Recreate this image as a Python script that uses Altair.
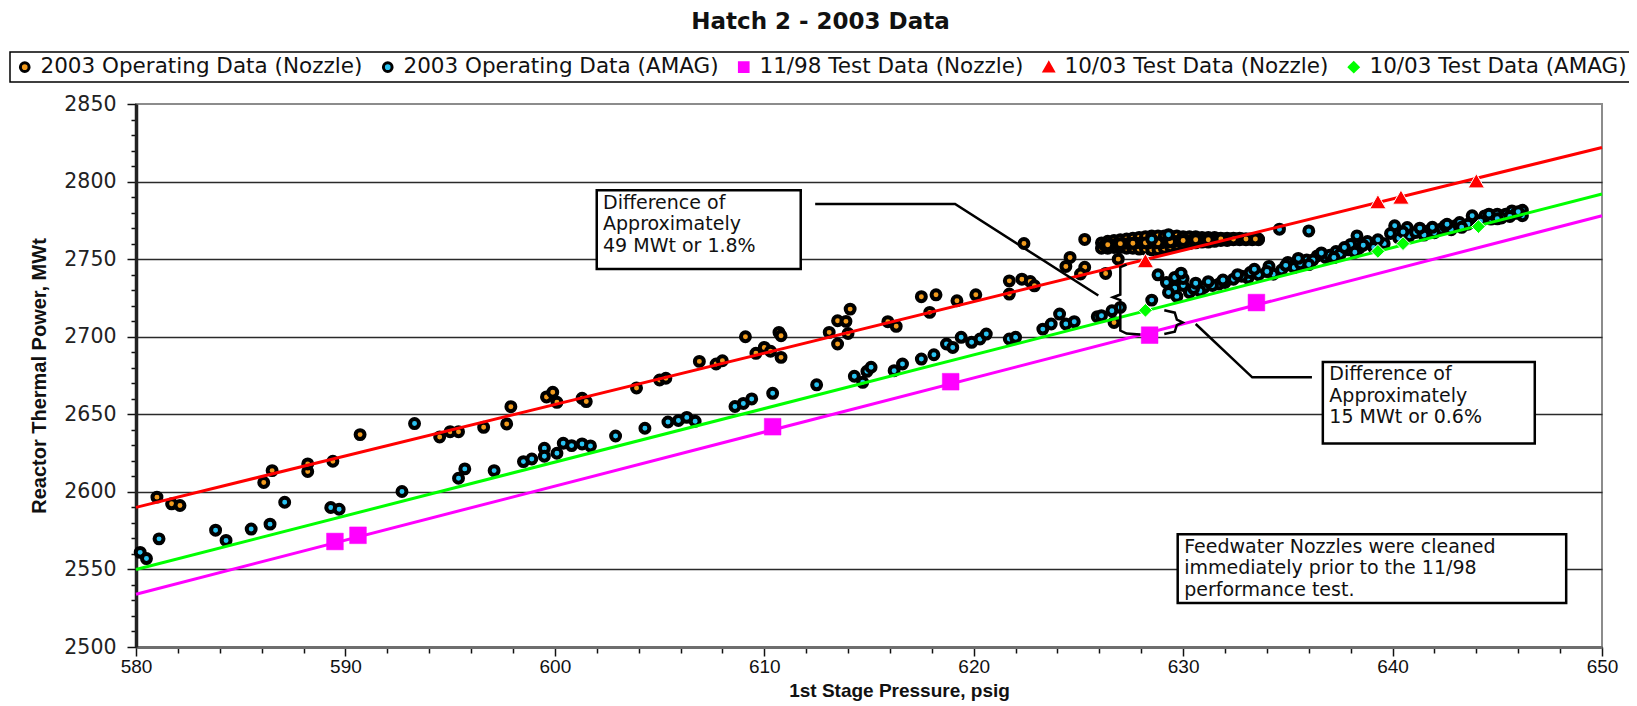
import altair as alt
import pandas as pd

# ---------------- legend / series ----------------
SERIES = ["2003 Operating Data (Nozzle)", "2003 Operating Data (AMAG)",
          "11/98 Test Data (Nozzle)", "10/03 Test Data (Nozzle)", "10/03 Test Data (AMAG)"]
FILLS = ["#F29B1D", "#29C3F2", "#FF00FF", "#FF0000", "#00FF00"]
SHAPES = ["circle", "circle", "square", "triangle-up", "diamond"]
STROKES = ["#000000", "#000000", "#FF00FF", "#FF0000", "#00FF00"]

# ---------------- 2003 operating data (nozzle) ----------------
NOZ_X = [581.0, 581.7, 582.1, 586.1, 586.5, 588.2, 588.2, 589.4, 590.7, 594.5, 595.0, 595.4,
         596.6, 597.7, 597.9, 599.6, 599.9, 600.1, 601.3, 601.5,
         603.9, 605.0, 605.3, 606.9, 607.7, 608.0, 609.1, 609.6, 610.0, 610.3, 610.8, 610.7,
         610.8, 613.1, 613.5, 613.9, 613.5, 614.0, 614.1, 615.9, 616.3, 617.5, 618.2, 617.9,
         619.2, 620.1, 621.7, 622.3, 622.7, 621.7, 622.9, 622.4, 624.4, 624.6, 625.3, 625.3,
         625.1, 626.3, 626.9, 626.7,
         # dense cluster, top row
         626.1, 626.4, 626.7, 627.0, 627.3, 627.6, 627.9, 628.2, 628.5, 628.8, 629.1, 629.4, 629.7,
         630.0, 630.3, 630.6, 630.9, 631.2, 631.5, 631.8, 632.1, 632.4, 632.7, 633.0, 633.3, 633.6,
         # dense cluster, bottom row
         626.1, 626.4, 626.7, 627.0, 627.3, 627.6, 627.9, 628.2, 628.5, 628.8, 629.1, 629.4, 629.7,
         630.0, 630.3, 630.6, 630.9, 631.2, 631.5, 631.8, 632.1, 632.4, 632.7, 633.0, 633.3, 633.6,
         # dense cluster, middle row
         626.25, 626.55, 626.85, 627.15, 627.45, 627.75, 628.05, 628.35, 628.65, 628.95, 629.25,
         629.55, 629.85, 630.15, 630.45, 630.75, 631.05, 631.35, 631.65, 631.95, 632.25, 632.55,
         632.85, 633.15, 633.45,
         # dense cluster, last readings
         626.4, 627.0, 627.6, 628.2, 628.8, 629.4, 630.0, 630.6, 631.2, 631.8, 632.4, 633.0]
NOZ_Y = [2596.6, 2592.3, 2591.2, 2606.0, 2613.7, 2613.1, 2618.0, 2619.7, 2636.9, 2635.4, 2638.8, 2638.8,
         2641.6, 2643.8, 2654.9, 2661.2, 2664.2, 2657.7, 2660.3, 2658.2,
         2667.0, 2672.1, 2673.2, 2684.1, 2682.4, 2684.5, 2700.0, 2689.3, 2693.1, 2690.6, 2686.7, 2702.8,
         2700.6, 2702.8, 2710.3, 2709.9, 2695.3, 2702.1, 2717.8, 2709.7, 2706.7, 2725.8, 2727.0, 2715.7,
         2723.2, 2727.0, 2736.0, 2737.1, 2735.6, 2727.5, 2732.8, 2760.1, 2745.3, 2751.1, 2762.7, 2744.8,
         2740.4, 2740.8, 2750.0, 2709.2,
         2760.5, 2761.5, 2762.0, 2762.5, 2763.0, 2763.5, 2764.0, 2764.5, 2765.0, 2765.0, 2765.0, 2765.0, 2765.0,
         2764.5, 2764.5, 2764.5, 2764.0, 2764.0, 2764.0, 2763.5, 2763.5, 2763.5, 2763.5, 2763.0, 2763.0, 2763.0,
         2757.0, 2757.0, 2757.5, 2757.5, 2757.0, 2757.0, 2756.5, 2756.5, 2756.0, 2756.0, 2757.0, 2758.0, 2759.0,
         2759.5, 2760.0, 2760.5, 2761.0, 2761.0, 2761.5, 2762.0, 2762.0, 2762.5, 2762.5, 2762.5, 2762.5, 2762.5,
         2759.0, 2759.5, 2760.0, 2760.0, 2760.0, 2760.5, 2760.5, 2760.5, 2760.5, 2760.5, 2761.0,
         2761.5, 2762.0, 2762.0, 2762.5, 2762.5, 2762.5, 2762.5, 2763.0, 2763.0, 2763.0, 2763.0,
         2763.0, 2763.0, 2763.0,
         2759.25, 2760.0, 2760.25, 2760.5, 2760.5, 2761.25, 2762.0, 2762.5, 2762.5, 2763.0, 2763.0, 2763.0]

# ---------------- 2003 operating data (AMAG) ----------------
AMAG_X = [580.2, 580.5, 581.1, 583.8, 584.3, 585.5, 586.4, 587.1, 589.3, 589.7, 592.7, 593.3,
          595.4, 595.7, 597.1, 598.5, 598.9, 599.5, 599.5, 600.1, 600.4, 600.8, 601.3, 601.7, 602.9,
          604.3, 605.4, 605.9, 606.3, 606.7, 608.6, 609.0, 609.4,
          610.4, 612.5, 614.3, 614.7, 614.9, 615.1, 616.2, 616.6, 617.5, 618.1, 618.7, 619.0, 619.4,
          619.9, 620.3, 620.6, 621.7, 622.0, 623.3, 623.7, 624.1, 624.4, 624.8, 625.9,
          626.1, 626.6, 627.0, 628.5, 628.5, 629.3, 634.6, 636.0, 638.3,
          628.8, 629.6, 629.6, 629.7, 630.3, 631.0, 631.7, 632.4, 633.1, 633.2, 634.1, 634.3, 635.0,
          635.3, 635.9, 636.4, 636.8, 637.3, 637.5, 638.4, 638.8, 639.1, 640.1, 640.7, 640.8, 641.1,
          641.7, 642.3, 642.5, 643.0, 643.2, 643.9, 644.4, 644.7, 645.0, 645.4, 645.7, 646.2, 646.2,
          630.0, 630.8, 631.4, 632.0, 632.8, 633.6, 634.7, 635.6, 636.2, 637.0, 637.9, 638.0, 639.6,
          640.3, 641.5, 642.0, 642.8, 643.6, 644.2, 645.2, 645.9, 629.2, 630.0,
          630.5, 631.2, 631.9, 632.6, 633.4, 634.0, 634.9, 635.5, 636.0, 636.6, 637.2, 637.7, 638.2,
          638.6, 639.3, 639.9, 640.5, 641.3, 641.9, 642.6, 643.3, 643.8, 644.6, 645.0, 645.6, 646.0,
          629.9, 629.3, 630.6]
AMAG_Y = [2561.0, 2557.0, 2569.7, 2575.3, 2568.7, 2576.0, 2579.2, 2593.3, 2589.9, 2588.8, 2600.2, 2644.0,
          2608.8, 2614.8, 2613.7, 2619.5, 2621.2, 2628.1, 2623.0, 2624.9, 2631.3, 2629.8, 2630.9, 2629.6, 2636.0,
          2641.0, 2645.0, 2646.0, 2648.0, 2645.5, 2655.0, 2657.0, 2659.9,
          2663.5, 2669.0, 2674.5, 2670.6, 2677.7, 2680.3, 2678.1, 2682.4, 2685.6, 2688.4, 2695.3, 2693.1, 2699.6,
          2696.4, 2698.5, 2701.7, 2698.5, 2699.6, 2704.9, 2708.2, 2714.6, 2708.2, 2709.7, 2712.9,
          2713.5, 2716.7, 2718.9, 2723.6, 2762.9, 2765.7, 2769.3, 2768.2, 2765.0,
          2739.9, 2738.2, 2731.3, 2726.0, 2728.5, 2731.8, 2733.9, 2737.1, 2737.8, 2741.4, 2745.3, 2740.3, 2747.9,
          2744.6, 2749.4, 2752.1, 2751.1, 2754.9, 2753.2, 2757.1, 2761.4, 2757.5, 2771.5, 2770.4, 2765.0, 2767.2,
          2768.2, 2769.3, 2771.5, 2771.5, 2773.6, 2775.8, 2777.9, 2775.8, 2779.0, 2779.0, 2781.1, 2781.5, 2778.0,
          2733.0, 2729.5, 2733.0, 2735.0, 2739.0, 2740.0, 2743.0, 2747.0, 2749.5, 2752.5, 2756.0, 2759.5, 2760.0,
          2763.5, 2765.5, 2767.0, 2769.0, 2772.5, 2774.5, 2776.5, 2779.5, 2735.0, 2737.5,
          2731.0, 2735.5, 2736.5, 2740.0, 2743.5, 2742.0, 2746.0, 2750.5, 2746.5, 2754.0, 2751.0, 2757.5, 2754.5,
          2759.0, 2762.5, 2766.5, 2767.5, 2770.0, 2770.5, 2772.5, 2770.5, 2778.0, 2779.0, 2776.0, 2777.5, 2780.5,
          2741.0, 2728.5, 2734.5]

# ---------------- test data ----------------
T98_X = [589.5, 590.6, 610.4, 618.9, 628.4, 633.5]
T98_Y = [2568.0, 2572.0, 2642.0, 2671.0, 2701.0, 2722.0]
T03N_X = [628.2, 639.3, 640.4, 644.0]
T03N_Y = [2749.0, 2787.0, 2790.0, 2800.5]
T03A_X = [628.2, 639.3, 640.5, 644.1]
T03A_Y = [2717.0, 2755.0, 2760.0, 2771.0]

# ---------------- fitted lines ----------------
FIT_X = [580, 650]
FIT_NOZ03 = [2590, 2822]
FIT_AMAG03 = [2550, 2792]
FIT_NOZ98 = [2534, 2778]

# ---------------- annotations ----------------
BOX_X1 = [602.0, 636.67, 629.74]
BOX_X2 = [611.74, 646.79, 648.29]
BOX_Y1 = [2794.4, 2683.7, 2572.7]
BOX_Y2 = [2743.7, 2631.2, 2528.3]
NOTE_X = [602.3, 636.98, 630.05]
NOTE_Y = [2782.6, 2672.0, 2560.9]
NOTE_TEXT = ["Difference of\nApproximately\n49 MWt or 1.8%",
             "Difference of\nApproximately\n15 MWt or 0.6%",
             "Feedwater Nozzles were cleaned\nimmediately prior to the 11/98\nperformance test."]
PATH_ID = ["c1", "c1", "c1",
           "b1", "b1", "b1", "b1", "b1", "b1", "b1", "b1",
           "b2", "b2", "b2", "b2", "b2", "b2", "b2",
           "c2", "c2", "c2"]
PATH_X = [612.43, 619.11, 625.95,
          627.3, 627.0, 627.0, 626.65, 627.0, 627.0, 627.3, 627.95,
          629.1, 629.6, 629.7, 629.98, 629.7, 629.6, 629.1,
          630.6, 633.3, 636.15]
PATH_Y = [2785.5, 2785.5, 2726.6,
          2746.5, 2744.8, 2727.2, 2725.4, 2723.6, 2704.0, 2702.0, 2701.5,
          2717.0, 2715.5, 2711.0, 2709.2, 2707.4, 2703.2, 2701.7,
          2708.2, 2673.8, 2673.8]

# ---------------- axes ----------------
X_TICKS = list(range(580, 651, 2))
Y_TICKS = list(range(2500, 2851, 10))

noz_df = pd.DataFrame({"x": NOZ_X, "y": NOZ_Y, "series": SERIES[0]})
amag_df = pd.DataFrame({"x": AMAG_X, "y": AMAG_Y, "series": SERIES[1]})
t98_df = pd.DataFrame({"x": T98_X, "y": T98_Y, "series": SERIES[2]})
t03n_df = pd.DataFrame({"x": T03N_X, "y": T03N_Y, "series": SERIES[3]})
t03a_df = pd.DataFrame({"x": T03A_X, "y": T03A_Y, "series": SERIES[4]})
box_df = pd.DataFrame({"x": BOX_X1, "x2": BOX_X2, "y": BOX_Y1, "y2": BOX_Y2})
note_df = pd.DataFrame({"x": NOTE_X, "y": NOTE_Y, "t": NOTE_TEXT})
path_df = pd.DataFrame({"x": PATH_X, "y": PATH_Y, "path": PATH_ID, "i": list(range(len(PATH_X)))})

x_axis = alt.Axis(
    values=X_TICKS, format="d", grid=False,
    labelExpr="datum.value % 10 === 0 ? datum.label : ''",
    labelOverlap=False, labelFlush=False,
    labelFont="Liberation Sans Narrow, Arial Narrow, Liberation Sans", labelFontSize=19,
    labelColor="#111", labelPadding=1,
    tickColor="#111", tickWidth=1.5,
    tickSize={"condition": {"test": "datum.value % 10 === 0", "value": 9}, "value": 6},
    domainColor="#6e6e6e", domainWidth=3,
    title="1st Stage Pressure, psig", titleFont="Liberation Sans", titleFontWeight="bold",
    titleFontSize=19, titleColor="#111", titleX=763, titleY=49,
    titleAlign="center", titleBaseline="alphabetic",
)
y_axis = alt.Axis(
    values=Y_TICKS, format="d", grid=True,
    gridColor="#2a2a2a", gridWidth=1.3,
    gridOpacity={"condition": {"test": "datum.value % 50 === 0 && datum.value < 2850", "value": 1},
                 "value": 0},
    labelExpr="datum.value % 50 === 0 ? datum.label : ''",
    labelOverlap=False, labelFlush=False,
    labelFont="DejaVu Sans", labelFontSize=20.5, labelColor="#222", labelPadding=11,
    tickColor="#111", tickWidth=1.5,
    tickSize={"condition": {"test": "datum.value % 50 === 0", "value": 9}, "value": 5},
    domainColor="#222", domainWidth=3.5,
    title="Reactor Thermal Power, MWt",
    titleFont="Liberation Sans Narrow, Arial Narrow, Liberation Sans", titleFontWeight="bold",
    titleFontSize=20, titleColor="#111", titleAngle=270,
    titleX=-87, titleY=271.5, titleAlign="center", titleBaseline="bottom",
)

xenc = alt.X("x:Q", scale=alt.Scale(domain=[580, 650], nice=False, zero=False), axis=x_axis)
yenc = alt.Y("y:Q", scale=alt.Scale(domain=[2500, 2850], nice=False, zero=False), axis=y_axis)

legend = alt.Legend(
    orient="none", legendX=-126, legendY=-52, direction="horizontal", title=None,
    strokeColor="black", fillColor="white", padding=4,
    labelFont="DejaVu Sans", labelFontSize=21.5, labelColor="#111", labelLimit=800,
    labelOffset=5, columnPadding=14, symbolSize=75, symbolStrokeWidth=3,
    symbolOpacity=1,
)
color_enc = alt.Color("series:N", scale=alt.Scale(domain=SERIES, range=FILLS), legend=legend)
shape_enc = alt.Shape("series:N", scale=alt.Scale(domain=SERIES, range=SHAPES), legend=legend)
stroke_enc = alt.Stroke("series:N", scale=alt.Scale(domain=SERIES, range=STROKES), legend=legend)

def op_layer(df):
    return alt.Chart(df).mark_point(filled=True, size=80, strokeWidth=4, opacity=1).encode(
        x=xenc, y=yenc, color=color_enc, shape=shape_enc, stroke=stroke_enc)

def fit_layer(ys, col):
    df = pd.DataFrame({"x": FIT_X, "y": ys})
    return alt.Chart(df).mark_line(strokeWidth=3).encode(x=xenc, y=yenc, color=alt.value(col))

def test_layer(df, size, outline, sw):
    return alt.Chart(df).mark_point(filled=True, size=size, opacity=1, stroke=outline,
                                    strokeWidth=sw).encode(
        x=xenc, y=yenc, color=color_enc, shape=shape_enc)

layers = [
    op_layer(noz_df),
    op_layer(amag_df),
    fit_layer(FIT_NOZ03, "#FF0000"),
    fit_layer(FIT_AMAG03, "#00FF00"),
    fit_layer(FIT_NOZ98, "#FF00FF"),
    test_layer(t98_df, 280, "#FF00FF", 0.5),
    test_layer(t03n_df, 270, "white", 1),
    test_layer(t03a_df, 190, "white", 1),
    alt.Chart(path_df).mark_line(color="black", strokeWidth=2.5).encode(
        x=xenc, y=yenc, detail="path:N", order="i:Q"),
    alt.Chart(box_df).mark_rect(fill="white", stroke="black", strokeWidth=2.5).encode(
        x=xenc, x2="x2:Q", y=yenc, y2="y2:Q"),
    alt.Chart(note_df).mark_text(align="left", baseline="alphabetic", font="DejaVu Sans",
                                 fontSize=19, lineHeight=21.5, lineBreak="\n",
                                 color="#111").encode(x=xenc, y=yenc, text="t:N"),
]

chart = alt.layer(*layers).properties(
    width=1466, height=543,
    autosize=alt.AutoSizeParams(type="none"),
    padding={"left": 128, "top": 96, "right": 27, "bottom": 54},
    title=alt.Title("Hatch 2 - 2003 Data", font="DejaVu Sans", fontSize=23, fontWeight="bold",
                    color="#111", anchor="middle", frame="bounds", offset=17),
).configure_view(stroke="#8c8c8c", strokeWidth=2).configure_legend(strokeWidth=1.5)

chart.save("out.html", embed_options={"renderer": "svg", "actions": False})
